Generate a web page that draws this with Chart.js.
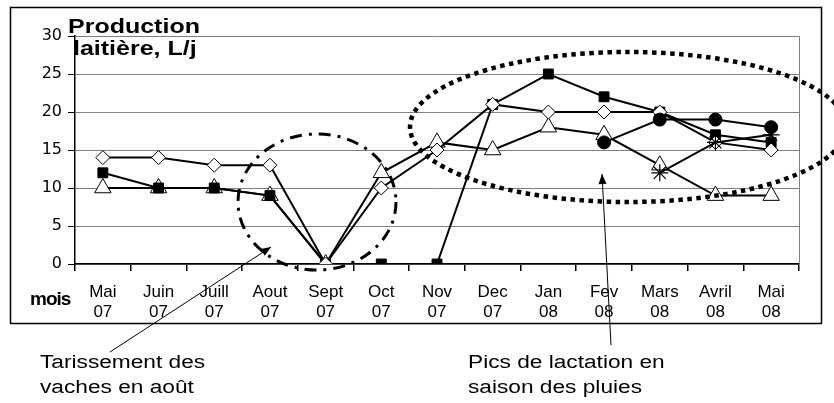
<!DOCTYPE html>
<html><head><meta charset="utf-8">
<script src="https://cdn.jsdelivr.net/npm/chart.js@4/dist/chart.umd.min.js"></script>
<style>
html,body{margin:0;padding:0;background:#fff;}
#wrap{position:relative;width:834px;height:403px;overflow:hidden;background:#fff;}
#c{position:absolute;left:0;top:0;}
.t{position:absolute;font-family:"Liberation Sans",Arial,sans-serif;color:#000;white-space:nowrap;transform-origin:0 0;}
</style></head><body>
<div id="wrap">
<canvas id="c" width="834" height="403"></canvas>
<div class="t" style="left:68px;top:16px;font-weight:bold;font-size:20px;line-height:20px;transform:scaleX(1.25)">Production</div>
<div class="t" style="left:73px;top:38px;font-weight:bold;font-size:20px;line-height:20px;transform:scaleX(1.25)">laitière, L/j</div>
<div class="t" style="left:30px;top:289px;font-weight:bold;font-size:19px;line-height:19px;letter-spacing:-1px">mois</div>
<div class="t" style="left:40px;top:350px;font-size:18px;line-height:25px;transform:scaleX(1.26)">Tarissement des<br>vaches en août</div>
<div class="t" style="left:468px;top:350px;font-size:18px;line-height:25px;transform:scaleX(1.26)">Pics de lactation en<br>saison des pluies</div>
</div>
<script>
const months = ["Mai","Juin","Juill","Aout","Sept","Oct","Nov","Dec","Jan","Fev","Mars","Avril","Mai"];
const years  = ["07","07","07","07","07","07","07","07","08","08","08","08","08"];
const yTicks = [0,5,10,15,20,25,30];
const seriesSquare   = [12,10,10,9,0,0,0,21,25,22,20,17,16];
const seriesDiamond  = [14,14,13,13,0,10,15,21,20,20,20,16,15];
const seriesTriangle = [10,10,10,9,0,12,16,15,18,17,13,9,9];
const seriesCircle   = [null,null,null,null,null,null,null,null,null,16,19,19,18];
const seriesStar     = [null,null,null,null,null,null,null,null,null,null,12,16,17];

const labels = months.map((m,i)=>[m, years[i]]);
const FONT = '"Liberation Sans", Arial, sans-serif';

const common = {borderColor:'#000', borderWidth:2, tension:0, fill:false, pointBorderColor:'#000', pointBorderWidth:1, pointHoverRadius:0};

const annot = {
  id:'annot',
  afterDraw(chart){
    const ctx = chart.ctx, a = chart.chartArea;
    ctx.save();
    ctx.strokeStyle = '#808080'; ctx.lineWidth = 1;
    ctx.beginPath(); ctx.moveTo(a.right+0.5, a.top); ctx.lineTo(a.right+0.5, a.bottom); ctx.stroke();
    ctx.strokeStyle = '#000'; ctx.lineWidth = 1.5;
    ctx.strokeRect(10.5, 7.5, 811, 316);
    ctx.lineWidth = 3; ctx.setLineDash([12,7,3,7]); ctx.lineCap='butt';
    ctx.beginPath(); ctx.ellipse(317, 202, 79, 68, 0, 0, Math.PI*2); ctx.stroke();
    ctx.lineWidth = 4.5; ctx.setLineDash([4.5,4.5]);
    ctx.beginPath(); ctx.ellipse(628, 127, 218, 75, 0, 0, Math.PI*2); ctx.stroke();
    ctx.setLineDash([]);
    function arrow(x1,y1,x2,y2){
      ctx.lineWidth = 1; ctx.strokeStyle='#000'; ctx.fillStyle='#000';
      ctx.beginPath(); ctx.moveTo(x1,y1); ctx.lineTo(x2,y2); ctx.stroke();
      const ang = Math.atan2(y2-y1, x2-x1), L=10, W=4;
      ctx.beginPath();
      ctx.moveTo(x2,y2);
      ctx.lineTo(x2 - L*Math.cos(ang) + W*Math.sin(ang), y2 - L*Math.sin(ang) - W*Math.cos(ang));
      ctx.lineTo(x2 - L*Math.cos(ang) - W*Math.sin(ang), y2 - L*Math.sin(ang) + W*Math.cos(ang));
      ctx.closePath(); ctx.fill();
    }
    arrow(110, 352, 271, 247);
    arrow(611, 345, 602, 174);
    ctx.restore();
  }
};

new Chart(document.getElementById('c'), {
  type:'line',
  data:{
    labels: labels,
    datasets:[
      Object.assign({}, common, {label:'s1', data:seriesSquare, pointStyle:'rect', pointRadius:7, pointBackgroundColor:'#000', order:3}),
      Object.assign({}, common, {label:'s2', data:seriesDiamond, pointStyle:'rectRot', pointRadius:7, pointBackgroundColor:'#fff', order:2}),
      Object.assign({}, common, {label:'s3', data:seriesTriangle, pointStyle:'triangle', pointRadius:9.5, pointBackgroundColor:'#fff', order:4}),
      Object.assign({}, common, {label:'s4', data:seriesCircle, pointStyle:'circle', pointRadius:6.5, pointBackgroundColor:'#000', order:0}),
      Object.assign({}, common, {label:'s5', data:seriesStar, pointStyle:'star', pointRadius:8.5, pointBorderWidth:1.2, pointBackgroundColor:'#000', order:1})
    ]
  },
  options:{
    responsive:false, animation:false, devicePixelRatio:1,
    events:[],
    layout:{padding:{left:10, right:35, top:36, bottom:69}},
    plugins:{legend:{display:false}, tooltip:{enabled:false}, title:{display:false}},
    scales:{
      x:{
        offset:true,
        grid:{offset:true, drawOnChartArea:false, drawTicks:true, tickLength:7, tickColor:'#000', lineWidth:1.5},
        border:{color:'#000', width:1.5},
        ticks:{color:'#000', font:{family:FONT, size:17, lineHeight:1.18}, padding:11, maxRotation:0, minRotation:0, autoSkip:false},
        afterFit(s){ s.height = 70; }
      },
      y:{
        min:0, max:30,
        afterBuildTicks(s){ s.ticks = yTicks.map(v=>({value:v})); },
        grid:{color:'#808080', lineWidth:1, tickLength:7, tickColor:'#000', drawTicks:true},
        border:{color:'#000', width:1.5},
        ticks:{color:'#000', font:{family:'"DejaVu Sans", sans-serif', size:16}, padding:6},
        afterFit(s){ s.width = 65; }
      }
    }
  },
  plugins:[annot]
});
</script>
</body></html>
